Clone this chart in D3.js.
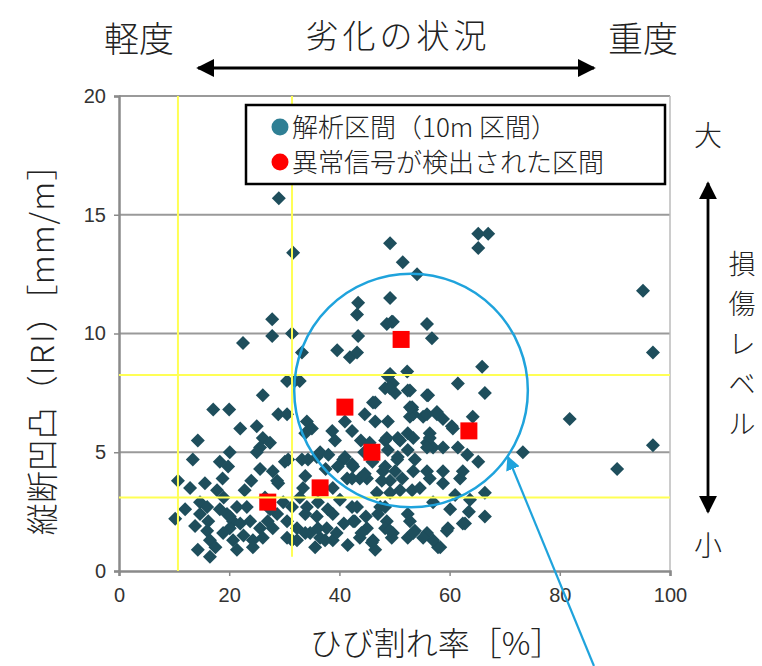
<!DOCTYPE html>
<html>
<head>
<meta charset="utf-8">
<script src="https://cdn.jsdelivr.net/npm/d3@7"></script>
<style>
  body { margin: 0; background: #fff; }
  svg { display: block; }
  .jp { font-family: "Noto Sans CJK JP", sans-serif; fill: #222; font-weight: 300; }
  .tick text { font-family: "Liberation Sans Narrow", "Liberation Sans", sans-serif; font-size: 20px; fill: #333; }
</style>
</head>
<body>
<div id="chart"></div>
<script>
// tick values
var xTicks = [0, 20, 40, 60, 80, 100];
var yTicks = [0, 5, 10, 15, 20];

// analysed 10m sections [crack rate %, IRI mm/m]
var sections = [
  [29.0,15.7],[31.6,13.4],[27.8,10.6],[27.8,9.9],[31.4,10.0],[22.5,9.6],
  [49.2,13.8],[51.5,13.0],[54.1,12.5],[49.2,11.5],[43.4,11.3],[43.2,10.8],[49.5,10.5],[43.4,9.9],
  [65.2,14.2],[67.0,14.2],[65.2,13.6],[95.1,11.8],[55.9,10.4],[56.8,9.8],[96.9,9.2],
  [65.9,8.6],[61.5,7.9],[66.4,7.5],[81.8,6.4],[64.2,6.5],[96.9,5.3],[73.3,5.0],[90.4,4.3],
  [66.4,3.3],[66.4,2.3],[62.8,2.0],[59.7,1.8],[57.9,1.0],[61.9,3.9],[65.2,4.6],
  [52.3,8.4],[48.8,8.2],[52.8,7.6],[56.1,7.4],[53.2,6.8],[55.2,6.5],[57.7,6.6],[58.8,6.4],[60.4,6.1],[61.5,5.2],[63.2,4.9],
  [33.2,9.2],[39.6,9.3],[41.9,9.0],[43.2,9.2],[30.5,8.0],[32.8,8.0],[26.1,7.4],[17.1,6.8],[20.0,6.8],[28.9,6.6],[30.5,6.6],
  [22.0,6.0],[25.0,6.1],[34.1,6.3],[35.0,6.0],[33.8,5.8],[38.7,5.9],[39.2,5.5],[41.0,6.3],[42.3,5.9],[46.1,7.1],[44.6,6.6],[46.5,6.3],[48.8,6.3],
  [14.3,5.5],[26.1,5.6],[27.4,5.4],[25.6,5.2],[13.4,4.7],[18.3,4.6],[19.8,4.4],[20.1,5.0],[25.0,5.0],[30.1,4.6],[25.6,4.3],[27.9,4.2],[28.9,3.7],
  [33.2,4.7],[35.9,4.8],[40.7,4.7],[42.5,4.4],[43.7,3.9],[41.4,3.9],[45.0,3.9],[47.9,4.2],[49.2,3.8],
  [10.7,3.8],[12.9,3.5],[15.6,3.7],[17.8,3.4],[33.4,3.5],[38.8,3.5],[10.2,2.2],
  [14.7,2.9],[16.0,2.7],[14.7,2.4],[19.6,2.4],[20.7,2.1],[22.0,2.0],[20.1,1.8],[21.4,2.7],[18.3,2.6],[20.1,2.3],[16.2,2.1],
  [16.0,1.7],[16.5,1.3],[14.3,0.9],[16.5,0.6],[20.7,1.3],[21.4,0.9],
  [23.2,2.7],[23.8,2.1],[25.6,1.8],[24.3,1.3],[26.1,1.4],[27.9,1.8],[28.7,2.4],[29.8,2.9],[30.5,2.1],[32.3,1.8],[32.3,1.3],[30.5,1.4],
  [34.1,2.7],[35.9,2.3],[37.7,1.8],[36.5,1.4],[38.8,1.3],[34.7,1.6],[32.8,3.1],[38.8,2.4],[40.1,3.0],
  [43.2,2.7],[42.5,2.1],[45.0,1.8],[43.7,1.4],[46.1,1.3],[47.4,2.7],[48.6,2.1],[49.7,1.6],[46.8,3.3],[49.2,3.3],
  [49.7,7.9],[49.2,8.3],[49.7,10.5],[24.3,1.0],[28.7,3.8],[27.4,2.6],
  [31.9,8.0],[48.3,7.7],[50.1,7.5],[52.4,7.6],[46.5,7.1],[53.2,6.9],[53.4,6.6],[43.9,5.5],[48.3,5.5],[50.6,5.6],[52.4,5.8],
  [48.8,5.1],[50.6,4.8],[52.4,5.1],[53.7,4.7],[41.0,4.8],[42.3,4.5],[39.7,4.4],[48.3,4.4],[50.1,4.2],[30.7,4.7],[34.3,4.7],
  [55.9,7.4],[55.9,6.6],[57.7,6.7],[60.6,6.0],[56.4,5.8],[55.9,5.4],[57.0,5.2],[58.8,5.2],[55.9,4.2],[58.8,4.2],[62.4,4.2],
  [33.8,4.0],[42.3,3.9],[44.6,4.1],[47.7,3.8],[51.4,3.9],[53.2,3.4],[31.4,2.7],[33.8,2.4],[36.1,2.9],[37.9,2.6],[33.8,1.6],
  [36.1,1.8],[37.4,1.3],[35.6,1.0],[42.3,2.7],[42.8,2.1],[44.0,1.6],[45.9,1.2],[47.0,2.4],[48.3,1.8],[49.5,1.4],[46.5,0.9],
  [52.4,2.4],[52.4,1.4],[53.7,1.7],[31.4,1.3],
  [57.0,2.9],[60.1,2.6],[62.4,2.0],[59.5,1.7],[55.9,1.6],[57.0,1.3],[58.3,1.0],[63.7,3.0],
  [48.6,5.6],[51.0,5.5],[50.5,4.7],[53.4,5.6],[56.4,5.6],[55.9,5.2],[53.4,4.2],[56.4,3.9],[58.8,3.7],[54.6,3.5],[51.0,3.4],
  [48.3,2.7],[52.8,2.1],[49.2,1.7],[55.2,1.4],[53.4,1.6],[52.8,6.5],[52.8,6.9],[49.2,7.7],[48.6,10.4],
  [36.5,5.0],[37.5,4.3],[44.5,5.0],[46.0,4.6],[45.5,5.4],[38.0,4.9],[63.5,2.5],[61.0,3.2],[44.8,2.3],[40.8,2.0],
  [39.5,1.6],[41.5,1.1],[27.0,2.1],[26.5,3.1],[22.8,3.4],[24.0,3.8],[18.8,3.9],[12.0,2.6],[13.8,1.9],[17.5,1.0],
  [18.9,1.6],[22.6,1.5],[19.0,3.1]
];

// sections where an abnormal signal was detected
var abnormal = [[27.0,2.9],[36.5,3.5],[41.0,6.9],[45.9,5.0],[51.2,9.75],[63.5,5.9]];

// yellow reference lines
var xRefLines = [10.7, 31.4];
var yRefLines = [3.1, 8.25];

// circle annotation: centre (x, y) and radius in x units
var ring = { x: 53, y: 7.6, r: 21.2 };

var width = 762, height = 666;
var margin = { top: 96, right: 92, bottom: 95, left: 119 };

var svg = d3.select("#chart").append("svg")
  .attr("width", width)
  .attr("height", height);

var x = d3.scaleLinear().domain([0, 100]).range([margin.left, width - margin.right]);
var y = d3.scaleLinear().domain([0, 20]).range([height - margin.bottom, margin.top]);

// horizontal gridlines
svg.append("g").selectAll("line")
  .data(yTicks.filter(function (d) { return d > 0; }))
  .enter().append("line")
  .attr("x1", x(0)).attr("x2", x(100))
  .attr("y1", function (d) { return y(d); }).attr("y2", function (d) { return y(d); })
  .attr("stroke", "#9a9a9a").attr("stroke-width", 2);

// right border
svg.append("line")
  .attr("x1", x(100)).attr("x2", x(100)).attr("y1", y(0)).attr("y2", y(20))
  .attr("stroke", "#bbb").attr("stroke-width", 1.5);

// axes
var xAxis = svg.append("g")
  .attr("transform", "translate(0," + y(0) + ")")
  .call(d3.axisBottom(x).tickValues(xTicks).tickSize(5).tickPadding(12));
var yAxis = svg.append("g")
  .attr("transform", "translate(" + x(0) + ",0)")
  .call(d3.axisLeft(y).tickValues(yTicks).tickSize(5).tickPadding(8));
[xAxis, yAxis].forEach(function (g) {
  g.select(".domain").attr("stroke", "#8a8a8a").attr("stroke-width", 2.5);
  g.selectAll(".tick line").attr("stroke", "#8a8a8a").attr("stroke-width", 1.5);
});

// diamonds
var diamond = "M0,-7L7,0L0,7L-7,0Z";
svg.append("g").selectAll("path")
  .data(sections)
  .enter().append("path")
  .attr("d", diamond)
  .attr("transform", function (d) { return "translate(" + x(d[0]) + "," + y(d[1]) + ")"; })
  .attr("fill", "#1e4e5c");

// red squares
svg.append("g").selectAll("rect")
  .data(abnormal)
  .enter().append("rect")
  .attr("x", function (d) { return x(d[0]) - 8.5; })
  .attr("y", function (d) { return y(d[1]) - 8.5; })
  .attr("width", 17).attr("height", 17)
  .attr("fill", "#ff0000");

// yellow lines
svg.append("g").selectAll("line")
  .data(xRefLines)
  .enter().append("line")
  .attr("x1", function (d) { return x(d); }).attr("x2", function (d) { return x(d); })
  .attr("y1", function (d, i) { return i == 0 ? y(0) : y(0.6); }).attr("y2", y(20))
  .attr("stroke", "#ffff55").attr("stroke-width", 2);
svg.append("g").selectAll("line")
  .data(yRefLines)
  .enter().append("line")
  .attr("x1", x(0)).attr("x2", x(100))
  .attr("y1", function (d) { return y(d); }).attr("y2", function (d) { return y(d); })
  .attr("stroke", "#ffff55").attr("stroke-width", 2);

// circle
var cyan = "#1fa3dc";
svg.append("circle")
  .attr("cx", x(ring.x)).attr("cy", y(ring.y))
  .attr("r", x(ring.r) - x(0))
  .attr("fill", "none").attr("stroke", cyan).attr("stroke-width", 2.5);

// pointer arrow
var defs = svg.append("defs");
defs.append("marker").attr("id", "cyanHead")
  .attr("viewBox", "0 0 10 10").attr("refX", 9).attr("refY", 5)
  .attr("markerWidth", 6.5).attr("markerHeight", 6.5).attr("orient", "auto")
  .append("path").attr("d", "M0,0L10,5L0,10Z").attr("fill", cyan);
svg.append("line")
  .attr("x1", x(86.2)).attr("y1", y(-4.0))
  .attr("x2", x(70.6)).attr("y2", y(4.8))
  .attr("stroke", cyan).attr("stroke-width", 2.2)
  .attr("marker-end", "url(#cyanHead)");

// black double arrows
defs.append("marker").attr("id", "blackHead")
  .attr("viewBox", "0 0 10 10").attr("refX", 9).attr("refY", 5)
  .attr("markerWidth", 6.5).attr("markerHeight", 6.5).attr("orient", "auto-start-reverse")
  .append("path").attr("d", "M0,0L10,5L0,10Z").attr("fill", "#000");
svg.append("line")
  .attr("x1", 198).attr("x2", 594).attr("y1", 68).attr("y2", 68)
  .attr("stroke", "#000").attr("stroke-width", 2.8)
  .attr("marker-start", "url(#blackHead)").attr("marker-end", "url(#blackHead)");
svg.append("line")
  .attr("x1", 708).attr("x2", 708).attr("y1", 183).attr("y2", 512)
  .attr("stroke", "#000").attr("stroke-width", 2.8)
  .attr("marker-start", "url(#blackHead)").attr("marker-end", "url(#blackHead)");

// header texts
svg.append("text").attr("class", "jp").attr("x", 139).attr("y", 52)
  .attr("text-anchor", "middle").style("font-size", "35px").text("軽度");
svg.append("text").attr("class", "jp").attr("x", 643).attr("y", 52)
  .attr("text-anchor", "middle").style("font-size", "35px").text("重度");
svg.append("text").attr("class", "jp").attr("x", 398).attr("y", 48)
  .attr("text-anchor", "middle").style("font-size", "33px").style("letter-spacing", "4px")
  .text("劣化の状況");

// right side texts
svg.append("text").attr("class", "jp").attr("x", 708).attr("y", 146)
  .attr("text-anchor", "middle").style("font-size", "28px").text("大");
svg.append("text").attr("class", "jp").attr("x", 708).attr("y", 556)
  .attr("text-anchor", "middle").style("font-size", "28px").text("小");
var vLabel = svg.append("text").attr("class", "jp")
  .attr("text-anchor", "middle").style("font-size", "27px");
vLabel.selectAll("tspan")
  .data("損傷レベル".split(""))
  .enter().append("tspan")
  .attr("x", 742)
  .attr("y", function (d, i) { return 274 + i * 40; })
  .text(function (d) { return d; });

// axis titles
svg.append("text").attr("class", "jp")
  .attr("x", 436).attr("y", 655)
  .attr("text-anchor", "middle").style("font-size", "32px")
  .text("ひび割れ率［%］");
var yTitle = svg.append("text").attr("class", "jp")
  .attr("transform", "translate(54,342) rotate(-90)")
  .attr("text-anchor", "middle").style("font-size", "32px");
yTitle.append("tspan").text("縦断凹凸（");
yTitle.append("tspan").style("letter-spacing", "2px").text("IRI");
yTitle.append("tspan").text("）［");
yTitle.append("tspan").style("letter-spacing", "1px").text("mm/m");
yTitle.append("tspan").text("］");

// legend
var lg = svg.append("g");
lg.append("rect").attr("x", 246).attr("y", 105).attr("width", 419).attr("height", 79)
  .attr("fill", "#fff").attr("stroke", "#000").attr("stroke-width", 2.5);
var legendItems = [
  { label: "解析区間（10m 区間）", color: "#2f7f94" },
  { label: "異常信号が検出された区間", color: "#ff0000" }
];
lg.selectAll("circle").data(legendItems).enter().append("circle")
  .attr("cx", 280).attr("cy", function (d, i) { return 127 + i * 35; })
  .attr("r", 8.5).attr("fill", function (d) { return d.color; });
lg.selectAll("text").data(legendItems).enter().append("text").attr("class", "jp")
  .attr("x", 292).attr("y", function (d, i) { return 137 + i * 35; })
  .style("font-size", "26px")
  .text(function (d) { return d.label; });
</script>
</body>
</html>
